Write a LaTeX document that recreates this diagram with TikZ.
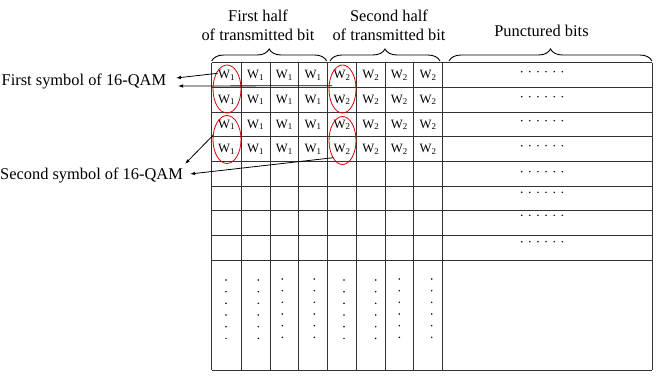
\documentclass[tikz,border=0pt]{standalone}
\usepackage{fontspec}
\setmainfont{Liberation Serif}
\usetikzlibrary{arrows.meta,decorations.pathreplacing}
\begin{document}
\begin{tikzpicture}[x=1pt,y=-1pt,
  gridline/.style={line width=0.9pt,draw=black!80},
  lbl/.style={font=\fontsize{16.4}{19.3}\selectfont,inner sep=0pt,align=center},
  cell/.style={font=\fontsize{12.7}{14}\selectfont,inner sep=0pt},
  ring/.style={draw=red!85!black,line width=0.8pt},
  conn/.style={draw=black,line width=0.8pt,-{Latex[length=5pt,width=3.5pt]}},
  hbrace/.style={draw=black,decorate,decoration={brace,amplitude=12pt},line width=0.9pt},
  dotfill/.style={fill=black}]
\useasboundingbox (0,0) rectangle (664,375);
% grid
\foreach \x in {211.7,241.3,270,298.7,327.3,356.7,385,413.7,442.3,652}
  \draw[gridline] (\x,62.7) -- (\x,370);
\foreach \k in {0,...,8}
  \draw[gridline] (211.7,{62.7+24.7*\k}) -- (652,{62.7+24.7*\k});
\draw[gridline] (211.7,370) -- (652,370);
% cells
\foreach \c [count=\i] in {226.5,255.7,284.3,313,342,370.9,399.4,428}
  \foreach \r [count=\j] in {75,99.8,124.8,149.3}
    \node[cell] (w\i\j) at (\c,\r) {W\textsubscript{\ifnum\i<5 1\else 2\fi}};
% ellipses
\draw[ring] (227,89) ellipse (14 and 24);
\draw[ring] (227,139.5) ellipse (14 and 24);
\draw[ring] (342.5,89) ellipse (13.5 and 24);
\draw[ring] (342.5,140.5) ellipse (13.5 and 24);
% headers
\node[lbl,anchor=north] (h1) at (258,9.5) {First half\\of transmitted bit};
\node[lbl,anchor=north] (h2) at (389,9.5) {Second half\\of transmitted bit};
\node[lbl,anchor=base] (h3) at (541.5,36.7) {Punctured bits};
\draw[hbrace] (211.7,61) -- (326.7,61);
\draw[hbrace] (330,61) -- (440,61);
\draw[hbrace] (449,61) -- (652,61);
% side labels
\node[lbl,anchor=base west] (fs) at (1.5,85.5) {First symbol of 16-QAM};
\node[lbl,anchor=base west] (ss) at (0,179.3) {Second symbol of 16-QAM};
% connectors
\coordinate (a1) at (217.7,73.3);
\coordinate (a2) at (332,85.7);
\coordinate (a3) at (213.3,135);
\coordinate (a4) at (333.3,157.7);
\coordinate (e1) at (176,78);
\coordinate (e2) at (178,86);
\coordinate (e3) at (185,164);
\coordinate (e4) at (190,174);
\draw[conn] (a1) -- (e1);
\draw[conn] (a2) -- (e2);
\draw[conn] (a3) -- (e3);
\draw[conn] (a4) -- (e4);
% dots in punctured column
\foreach \y in {71.7,96.7,120.7,145.7,171.7,192.3,215.3,241.7}
  \foreach \k in {0,...,5}
    \fill[dotfill] ({521.7+8.12*\k},\y) circle (0.85);
% vertical dots
\foreach \x/\ya in {226/280,258.3/280,282.3/279,314.3/279,344/280,375.7/280,399.3/279,431.7/279}
  \foreach \k in {0,...,5}
    \fill[dotfill] (\x,{\ya+11.67*\k}) circle (0.85);
\end{tikzpicture}
\end{document}
